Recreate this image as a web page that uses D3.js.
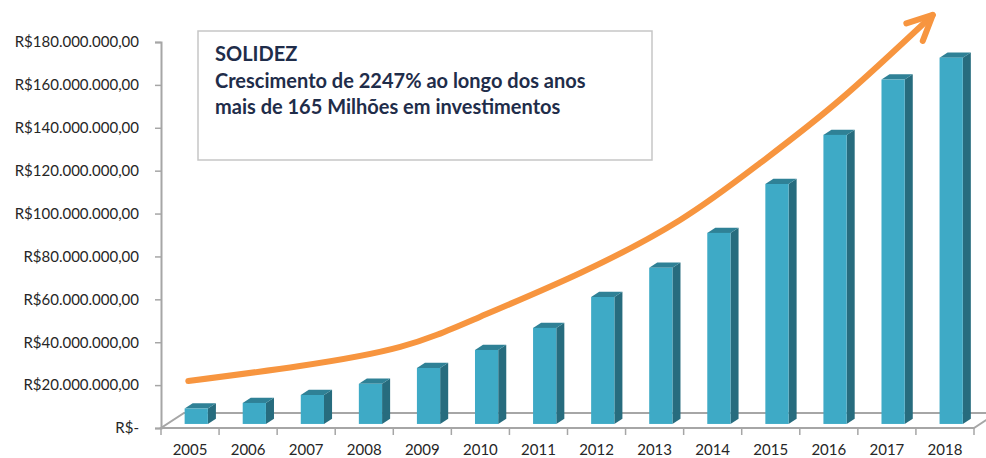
<!DOCTYPE html>
<html>
<head>
<meta charset="utf-8">
<script src="https://cdn.jsdelivr.net/npm/d3@7"></script>
<style>
  body { margin: 0; background: #fff; }
  text { font-family: Lato, "Open Sans", sans-serif; }
</style>
</head>
<body>
<script>
// years and invested amounts (millions of R$)
var years = ["2005","2006","2007","2008","2009","2010","2011","2012","2013","2014","2015","2016","2017","2018"];
var amounts = [7.2, 9.8, 13.5, 18.7, 26.1, 34.5, 44.8, 59.2, 72.8, 89.1, 111.9, 134.8, 160.6, 170.8];
var yTicks = [0, 20, 40, 60, 80, 100, 120, 140, 160, 180];

// growth arrow, given as (year position, millions)
var arrowYears = [2004.97, 2006.89, 2008.62, 2009.99, 2011.72, 2013.44, 2014.82, 2016.19, 2017.79];
var arrowValues = [21.9, 28.9, 37.8, 51.8, 72.3, 97.0, 123.6, 153.0, 192.6];

var noteLines = ["SOLIDEZ", "Crescimento de 2247% ao longo dos anos", "mais de 165 Milhões em investimentos"];

var window_w = 986, window_h = 458;
var plotLeft = 161, plotRight = 974, plotTop = 42, floorY = 428;
var depth = {dx: 23, dy: -15};   // floor depth
var barFront = 0.27, barDepth = 0.35;   // fractions of floor depth

var brl = d3.formatLocale({decimal: ",", thousands: ".", grouping: [3], currency: ["R$", ""]});
var fmt = brl.format("$,.2f");

var xBand = d3.scaleBand().domain(years).range([plotLeft, plotRight]);
var xPos = d3.scaleLinear().domain([2004.5, 2018.5]).range([plotLeft, plotRight]);
var yScale = d3.scaleLinear().domain([0, 180]).range([floorY, plotTop]);

var svg = d3.select("body").append("svg").attr("width", window_w).attr("height", window_h);

// floor
svg.append("path")
    .attr("d", "M" + plotLeft + "," + floorY + "L" + plotRight + "," + floorY +
               "L" + (plotRight + depth.dx) + "," + (floorY + depth.dy) +
               "L" + (plotLeft + depth.dx) + "," + (floorY + depth.dy) + "Z")
    .attr("fill", "#fff")
    .attr("stroke", "#a6a6a6")
    .attr("stroke-width", 2);

// y axis
var yAxis = d3.axisLeft(yScale).tickValues(yTicks).tickSize(6).tickPadding(16)
    .tickFormat(function(d) { return d === 0 ? "R$-" : fmt(d * 1e6); });
var yAxisG = svg.append("g").attr("transform", "translate(" + plotLeft + ",0)").call(yAxis);
yAxisG.select(".domain").attr("stroke", "#a6a6a6").attr("stroke-width", 2);
yAxisG.selectAll(".tick line").attr("stroke", "#a6a6a6").attr("stroke-width", 1.5);
yAxisG.selectAll("text").attr("font-size", 15).attr("fill", "#262626").attr("font-family", "Lato");

// x axis
var xAxis = d3.axisBottom(xBand).tickSize(0).tickPadding(16);
var xAxisG = svg.append("g").attr("transform", "translate(0," + floorY + ")").call(xAxis);
xAxisG.select(".domain").remove();
xAxisG.selectAll("text").attr("font-size", 15).attr("fill", "#262626").attr("font-family", "Lato");
svg.append("g").selectAll("line").data(years.concat(["end"]))
    .enter().append("line")
    .attr("x1", function(d, i) { return plotLeft + i * xBand.bandwidth(); })
    .attr("x2", function(d, i) { return plotLeft + i * xBand.bandwidth(); })
    .attr("y1", floorY).attr("y2", floorY + 7)
    .attr("stroke", "#a6a6a6").attr("stroke-width", 1.5);

// 3d bars
var faceW = xBand.bandwidth() * 0.40;
var offX = depth.dx * barFront, offY = depth.dy * barFront;
var bdx = depth.dx * barDepth, bdy = depth.dy * barDepth;

var bars = svg.append("g").selectAll("g").data(years)
    .enter().append("g").attr("class", "bar");

function geo(d, i) {
    var cx = xBand(d) + xBand.bandwidth() / 2 + offX;
    return {x0: cx - faceW / 2, x1: cx + faceW / 2, yb: floorY + offY, yt: yScale(amounts[i]) + offY};
}

bars.append("path")   // side
    .attr("d", function(d, i) {
        var g = geo(d, i);
        return "M" + g.x1 + "," + g.yt + "L" + (g.x1 + bdx) + "," + (g.yt + bdy) +
               "L" + (g.x1 + bdx) + "," + (g.yb + bdy) + "L" + g.x1 + "," + g.yb + "Z";
    })
    .attr("fill", "#276c7e");
bars.append("path")   // top
    .attr("d", function(d, i) {
        var g = geo(d, i);
        return "M" + g.x0 + "," + g.yt + "L" + g.x1 + "," + g.yt +
               "L" + (g.x1 + bdx) + "," + (g.yt + bdy) + "L" + (g.x0 + bdx) + "," + (g.yt + bdy) + "Z";
    })
    .attr("fill", "#2f8196");
bars.append("rect")   // front
    .attr("x", function(d, i) { return geo(d, i).x0; })
    .attr("y", function(d, i) { return geo(d, i).yt; })
    .attr("width", faceW)
    .attr("height", function(d, i) { var g = geo(d, i); return g.yb - g.yt; })
    .attr("fill", "#3eaac6");

// note box
var box = svg.append("g");
box.append("rect")
    .attr("x", 198).attr("y", 31).attr("width", 454).attr("height", 129)
    .attr("fill", "#fff").attr("stroke", "#c6c6c6").attr("stroke-width", 1.5);
box.selectAll("text").data(noteLines)
    .enter().append("text")
    .attr("x", 215)
    .attr("y", function(d, i) { return 61 + i * 26.5; })
    .attr("font-size", 20)
    .attr("font-weight", "bold")
    .attr("fill", "#1f2d4a")
    .text(function(d) { return d; });

// growth arrow
var orange = "#f7953f";
svg.append("defs").append("marker")
    .attr("id", "head")
    .attr("markerUnits", "userSpaceOnUse")
    .attr("viewBox", "-32 -20 40 40")
    .attr("markerWidth", 40).attr("markerHeight", 40)
    .attr("refX", 0).attr("refY", 0)
    .attr("orient", "auto")
    .append("path")
    .attr("d", "M-25,-12L0,0L-25,12")
    .attr("fill", "none")
    .attr("stroke", orange)
    .attr("stroke-width", 6)
    .attr("stroke-linecap", "round")
    .attr("stroke-linejoin", "round");

var arrowLine = d3.line()
    .x(function(d, i) { return xPos(arrowYears[i]); })
    .y(function(d, i) { return yScale(d); })
    .curve(d3.curveNatural);

svg.append("path")
    .attr("d", arrowLine(arrowValues))
    .attr("fill", "none")
    .attr("stroke", orange)
    .attr("stroke-width", 6)
    .attr("stroke-linecap", "round")
    .attr("marker-end", "url(#head)");
</script>
</body>
</html>
